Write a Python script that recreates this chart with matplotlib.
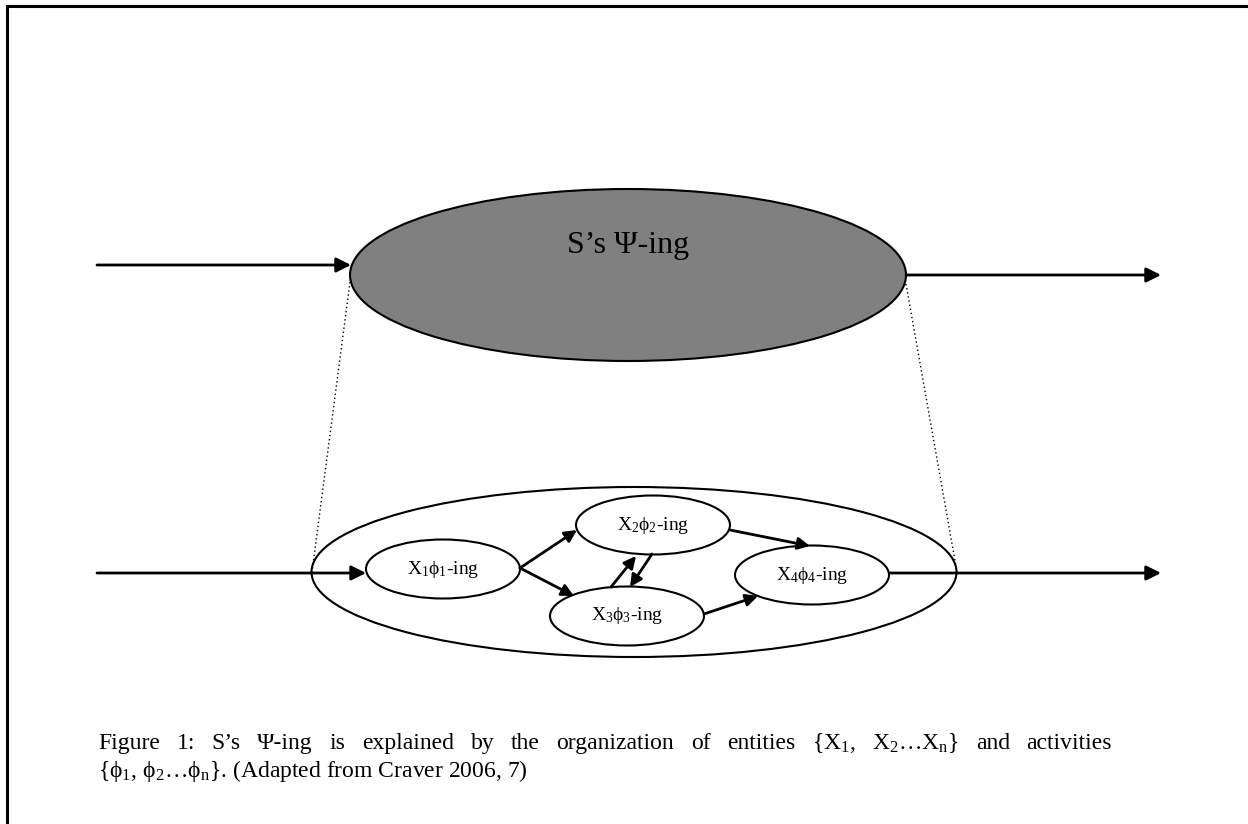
import matplotlib.pyplot as plt
from matplotlib.patches import Ellipse

plt.rcParams['font.family'] = ['Liberation Serif', 'DejaVu Serif']
plt.rcParams['mathtext.fontset'] = 'custom'
plt.rcParams['mathtext.rm'] = 'Liberation Serif'
plt.rcParams['mathtext.it'] = 'Liberation Serif'

# diagram content
top_label = 'S\u2019s \u03a8-ing'
node_labels = ['X$_1$\u03d5$_1$-ing', 'X$_2$\u03d5$_2$-ing', 'X$_3$\u03d5$_3$-ing', 'X$_4$\u03d5$_4$-ing']
edges = [(0, 1), (0, 2), (2, 1), (1, 2), (1, 3), (2, 3)]
caption1 = ('Figure 1: S\u2019s \u03a8-ing is explained by the organization of entities '
            '{X$_1$, X$_2$\u2026X$_n$} and activities')
caption2 = '{\u03d5$_1$, \u03d5$_2$\u2026\u03d5$_n$}. (Adapted from Craver 2006, 7)'

# layout (pixels, y down)
node_xy = [(443, 569), (653, 525), (627, 616), (812, 575)]
node_wh = (154, 59)
edge_pts = {
    (0, 1): ((520, 568), (577, 530)),
    (0, 2): ((520, 568), (574, 596)),
    (2, 1): ((611, 587), (636, 556)),
    (1, 2): ((652, 554), (630, 587)),
    (1, 3): ((730, 530), (810, 546)),
    (2, 3): ((704, 614), (758, 596)),
}

fig = plt.figure(figsize=(12.48, 8.24), dpi=100)
ax = fig.add_axes([0, 0, 1, 1])
ax.set_xlim(0, 1248)
ax.set_ylim(824, 0)
ax.axis('off')

# frame
ax.plot([7, 7], [824, 6], color='black', lw=2.2)
ax.plot([7, 1248], [6, 6], color='black', lw=2.2)

aprops = dict(arrowstyle='-|>', lw=2, color='black', mutation_scale=22,
              shrinkA=0, shrinkB=0)

# top system
ax.add_patch(Ellipse((628, 275), 556, 172, facecolor='#808080', edgecolor='black', lw=1.5))
ax.text(628, 245, top_label, fontsize=23, ha='center', va='center')
ax.annotate('', xy=(351, 265), xytext=(97, 265), arrowprops=aprops)
ax.annotate('', xy=(1161, 275), xytext=(906, 275), arrowprops=aprops)

# dotted projection lines
ax.plot([350, 312], [282, 572], color='black', lw=1, ls=(0, (1, 2)))
ax.plot([906, 957], [284, 572], color='black', lw=1, ls=(0, (1, 2)))

# mechanism
ax.add_patch(Ellipse((634, 572), 645, 170, facecolor='none', edgecolor='black', lw=1.5))
ax.annotate('', xy=(366, 573), xytext=(97, 573), arrowprops=aprops)
ax.annotate('', xy=(1161, 573), xytext=(889, 573), arrowprops=aprops)

for (x, y), lab in zip(node_xy, node_labels):
    ax.add_patch(Ellipse((x, y), node_wh[0], node_wh[1], facecolor='white',
                         edgecolor='black', lw=1.5, zorder=3))
    ax.text(x, y, lab, fontsize=14, ha='center', va='center', zorder=4)

for e in edges:
    (x0, y0), (x1, y1) = edge_pts[e]
    ax.annotate('', xy=(x1, y1), xytext=(x0, y0),
                arrowprops=dict(aprops, mutation_scale=18), zorder=5)

# caption, first line justified
fig.canvas.draw()
renderer = fig.canvas.get_renderer()
words = caption1.split(' ')
left, right = 98, 1112
texts = [ax.text(0, 749, w, fontsize=17, ha='left', va='baseline') for w in words]
widths = []
for t in texts:
    bb = t.get_window_extent(renderer)
    widths.append(bb.width)
gap = (right - left - sum(widths)) / (len(words) - 1)
x = left
for t, w in zip(texts, widths):
    t.set_x(x)
    x += w + gap
ax.text(left, 777, caption2, fontsize=17, ha='left', va='baseline')

fig.savefig('out.png', dpi=100)
